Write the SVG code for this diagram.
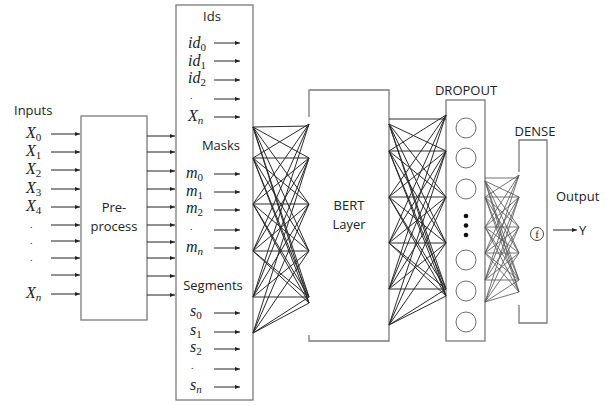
<svg xmlns="http://www.w3.org/2000/svg" width="610" height="406" viewBox="0 0 610 406">
<defs>
<marker id="ah" markerWidth="5" markerHeight="4" refX="5" refY="2" orient="auto" markerUnits="userSpaceOnUse"><path d="M0,0 L5,2 L0,4 z" fill="#222"/></marker>
<style>
.box{fill:#fff;stroke:#7a7a7a;stroke-width:1.3}
.lbl{font-family:"Open Sans","Noto Sans",sans-serif;font-size:13px;fill:#222}
.m{font-family:"Liberation Serif","DejaVu Serif",serif;font-style:italic;font-size:16px;fill:#222}
.d{font-family:"Liberation Serif","DejaVu Serif",serif;font-size:10px;fill:#222}
.sub{font-style:normal;font-size:11px}
.subi{font-size:11px}
.ar{stroke:#222;stroke-width:1;marker-end:url(#ah);fill:none}
.f1{stroke:#2a2a2a;stroke-width:1}
.f3{stroke:#5a5a5a;stroke-width:0.85}
.c{fill:#fff;stroke:#6e6e6e;stroke-width:1}
</style>
</defs>
<rect width="610" height="406" fill="#fff"/>

<g id="inputs">
<text class="lbl" x="14" y="115">Inputs</text>
<text class="m" x="26" y="138">X<tspan class="sub" dy="3">0</tspan></text>
<text class="m" x="26" y="156">X<tspan class="sub" dy="3">1</tspan></text>
<text class="m" x="26" y="174">X<tspan class="sub" dy="3">2</tspan></text>
<text class="m" x="26" y="193">X<tspan class="sub" dy="3">3</tspan></text>
<text class="m" x="26" y="211">X<tspan class="sub" dy="3">4</tspan></text>
<text class="d" x="30" y="228">.</text>
<text class="d" x="30" y="244">.</text>
<text class="d" x="30" y="261">.</text>
<text class="m" x="26" y="298">X<tspan class="subi" dy="3">n</tspan></text>
</g>

<g id="preprocess">
<rect class="box" x="81" y="116" width="66" height="204"/>
<text class="lbl" x="114" y="212" text-anchor="middle">Pre-</text>
<text class="lbl" x="114" y="231" text-anchor="middle">process</text>
</g>

<g id="ids-masks-segments">
<rect class="box" x="176" y="5" width="77" height="395"/>
<text class="lbl" x="212" y="21" text-anchor="middle">Ids</text>
<text class="m" x="188" y="48">id<tspan class="sub" dy="3">0</tspan></text>
<text class="m" x="188" y="66">id<tspan class="sub" dy="3">1</tspan></text>
<text class="m" x="188" y="83">id<tspan class="sub" dy="3">2</tspan></text>
<text class="d" x="190" y="99">.</text>
<text class="m" x="188" y="121">X<tspan class="subi" dy="3">n</tspan></text>
<text class="lbl" x="221" y="150" text-anchor="middle">Masks</text>
<text class="m" x="186" y="178">m<tspan class="sub" dy="3">0</tspan></text>
<text class="m" x="186" y="196">m<tspan class="sub" dy="3">1</tspan></text>
<text class="m" x="186" y="213">m<tspan class="sub" dy="3">2</tspan></text>
<text class="d" x="190" y="230">.</text>
<text class="m" x="186" y="252">m<tspan class="subi" dy="3">n</tspan></text>
<text class="lbl" x="213" y="290" text-anchor="middle">Segments</text>
<text class="m" x="190" y="316">s<tspan class="sub" dy="3">0</tspan></text>
<text class="m" x="190" y="335">s<tspan class="sub" dy="3">1</tspan></text>
<text class="m" x="190" y="352">s<tspan class="sub" dy="3">2</tspan></text>
<text class="d" x="191" y="369">.</text>
<text class="m" x="190" y="390">s<tspan class="subi" dy="3">n</tspan></text>
</g>

<g id="bert">
<path class="box" d="M309,117 V90 H389 V341 H309 V335" />
<text class="lbl" x="349" y="210" text-anchor="middle">BERT</text>
<text class="lbl" x="349" y="229" text-anchor="middle">Layer</text>
</g>

<g id="dropout">
<text class="lbl" x="466" y="95" text-anchor="middle">DROPOUT</text>
<rect class="box" x="446" y="100" width="39" height="241"/>
<circle class="c" cx="466" cy="128" r="10"/>
<circle class="c" cx="466" cy="158" r="10"/>
<circle class="c" cx="466" cy="189" r="10"/>
<circle cx="466" cy="216" r="2.3" fill="#111"/>
<circle cx="466" cy="225.5" r="2.3" fill="#111"/>
<circle cx="466" cy="235" r="2.3" fill="#111"/>
<circle class="c" cx="466" cy="260" r="10"/>
<circle class="c" cx="466" cy="291" r="10"/>
<circle class="c" cx="466" cy="322" r="10"/>
</g>

<g id="dense">
<text class="lbl" x="535" y="136" text-anchor="middle">DENSE</text>
<path class="box" d="M519,172 V140 H547 V323 H519 V305"/>
<circle cx="537" cy="234" r="6.5" fill="none" stroke="#333" stroke-width="0.9"/>
<text x="537" y="238" text-anchor="middle" font-family="Liberation Serif,serif" font-size="11" fill="#222">f</text>
</g>

<g id="output">
<text class="lbl" x="556" y="201">Output</text>
<text class="lbl" x="579" y="235">Y</text>
</g>

<g id="connectors">
<line class="ar" x1="51" y1="134" x2="80" y2="134"/>
<line class="ar" x1="51" y1="152" x2="80" y2="152"/>
<line class="ar" x1="51" y1="170" x2="80" y2="170"/>
<line class="ar" x1="51" y1="189" x2="80" y2="189"/>
<line class="ar" x1="51" y1="207" x2="80" y2="207"/>
<line class="ar" x1="51" y1="225" x2="80" y2="225"/>
<line class="ar" x1="51" y1="241" x2="80" y2="241"/>
<line class="ar" x1="51" y1="258" x2="80" y2="258"/>
<line class="ar" x1="51" y1="275" x2="80" y2="275"/>
<line class="ar" x1="51" y1="294" x2="80" y2="294"/>
<line class="ar" x1="147" y1="136" x2="175" y2="136"/>
<line class="ar" x1="147" y1="152" x2="175" y2="152"/>
<line class="ar" x1="147" y1="171" x2="175" y2="171"/>
<line class="ar" x1="147" y1="189" x2="175" y2="189"/>
<line class="ar" x1="147" y1="207" x2="175" y2="207"/>
<line class="ar" x1="147" y1="225" x2="175" y2="225"/>
<line class="ar" x1="147" y1="242" x2="175" y2="242"/>
<line class="ar" x1="147" y1="258" x2="175" y2="258"/>
<line class="ar" x1="147" y1="276" x2="175" y2="276"/>
<line class="ar" x1="147" y1="295" x2="175" y2="295"/>
<line class="ar" x1="214" y1="43" x2="240" y2="43"/>
<line class="ar" x1="214" y1="61" x2="240" y2="61"/>
<line class="ar" x1="214" y1="80" x2="240" y2="80"/>
<line class="ar" x1="214" y1="99" x2="240" y2="99"/>
<line class="ar" x1="214" y1="117" x2="240" y2="117"/>
<line class="ar" x1="214" y1="174" x2="240" y2="174"/>
<line class="ar" x1="214" y1="192" x2="240" y2="192"/>
<line class="ar" x1="214" y1="210" x2="240" y2="210"/>
<line class="ar" x1="214" y1="230" x2="240" y2="230"/>
<line class="ar" x1="214" y1="248" x2="240" y2="248"/>
<line class="ar" x1="214" y1="313" x2="240" y2="313"/>
<line class="ar" x1="214" y1="332" x2="240" y2="332"/>
<line class="ar" x1="214" y1="349" x2="240" y2="349"/>
<line class="ar" x1="214" y1="369" x2="240" y2="369"/>
<line class="ar" x1="214" y1="387" x2="240" y2="387"/>
<line class="ar" x1="553" y1="230" x2="577" y2="230"/>
<g class="f1">
<line x1="253" y1="127" x2="309" y2="126"/><line x1="253" y1="127" x2="309" y2="158"/><line x1="253" y1="127" x2="309" y2="204"/><line x1="253" y1="127" x2="309" y2="251"/><line x1="253" y1="127" x2="309" y2="297"/><line x1="253" y1="127" x2="309" y2="303"/>
<line x1="253" y1="158" x2="309" y2="124"/><line x1="253" y1="158" x2="309" y2="158"/><line x1="253" y1="158" x2="309" y2="204"/><line x1="253" y1="158" x2="309" y2="251"/><line x1="253" y1="158" x2="309" y2="297"/><line x1="253" y1="158" x2="309" y2="303"/>
<line x1="253" y1="204" x2="309" y2="124"/><line x1="253" y1="204" x2="309" y2="158"/><line x1="253" y1="204" x2="309" y2="204"/><line x1="253" y1="204" x2="309" y2="251"/><line x1="253" y1="204" x2="309" y2="297"/><line x1="253" y1="204" x2="309" y2="303"/>
<line x1="253" y1="251" x2="309" y2="124"/><line x1="253" y1="251" x2="309" y2="158"/><line x1="253" y1="251" x2="309" y2="204"/><line x1="253" y1="251" x2="309" y2="251"/><line x1="253" y1="251" x2="309" y2="297"/><line x1="253" y1="251" x2="309" y2="303"/>
<line x1="253" y1="297" x2="309" y2="124"/><line x1="253" y1="297" x2="309" y2="158"/><line x1="253" y1="297" x2="309" y2="204"/><line x1="253" y1="297" x2="309" y2="251"/><line x1="253" y1="297" x2="309" y2="297"/>
<line x1="253" y1="333" x2="309" y2="158"/><line x1="253" y1="333" x2="309" y2="204"/><line x1="253" y1="333" x2="309" y2="251"/><line x1="253" y1="333" x2="309" y2="297"/><line x1="253" y1="333" x2="309" y2="303"/>
</g>
<g class="f1">
<line x1="389" y1="119" x2="446" y2="119"/><line x1="389" y1="124" x2="446" y2="151"/><line x1="389" y1="124" x2="446" y2="197"/><line x1="389" y1="124" x2="446" y2="243"/><line x1="389" y1="124" x2="446" y2="289"/><line x1="389" y1="124" x2="446" y2="296"/>
<line x1="389" y1="151" x2="446" y2="115"/><line x1="389" y1="151" x2="446" y2="151"/><line x1="389" y1="151" x2="446" y2="197"/><line x1="389" y1="151" x2="446" y2="243"/><line x1="389" y1="151" x2="446" y2="289"/><line x1="389" y1="151" x2="446" y2="296"/>
<line x1="389" y1="197" x2="446" y2="115"/><line x1="389" y1="197" x2="446" y2="151"/><line x1="389" y1="197" x2="446" y2="197"/><line x1="389" y1="197" x2="446" y2="243"/><line x1="389" y1="197" x2="446" y2="289"/><line x1="389" y1="197" x2="446" y2="296"/>
<line x1="389" y1="243" x2="446" y2="115"/><line x1="389" y1="243" x2="446" y2="151"/><line x1="389" y1="243" x2="446" y2="197"/><line x1="389" y1="243" x2="446" y2="243"/><line x1="389" y1="243" x2="446" y2="289"/><line x1="389" y1="243" x2="446" y2="296"/>
<line x1="389" y1="289" x2="446" y2="115"/><line x1="389" y1="289" x2="446" y2="151"/><line x1="389" y1="289" x2="446" y2="197"/><line x1="389" y1="289" x2="446" y2="243"/><line x1="389" y1="289" x2="446" y2="289"/>
<line x1="389" y1="325" x2="446" y2="151"/><line x1="389" y1="325" x2="446" y2="197"/><line x1="389" y1="325" x2="446" y2="243"/><line x1="389" y1="325" x2="446" y2="289"/><line x1="389" y1="325" x2="446" y2="296"/>
</g>
<g class="f3">
<line x1="485" y1="178" x2="519" y2="178"/><line x1="485" y1="181" x2="519" y2="197"/><line x1="485" y1="181" x2="519" y2="227"/><line x1="485" y1="181" x2="519" y2="253"/><line x1="485" y1="181" x2="519" y2="280"/><line x1="485" y1="181" x2="519" y2="292"/>
<line x1="485" y1="197" x2="519" y2="175"/><line x1="485" y1="197" x2="519" y2="197"/><line x1="485" y1="197" x2="519" y2="227"/><line x1="485" y1="197" x2="519" y2="253"/><line x1="485" y1="197" x2="519" y2="280"/><line x1="485" y1="197" x2="519" y2="292"/>
<line x1="485" y1="227" x2="519" y2="175"/><line x1="485" y1="227" x2="519" y2="197"/><line x1="485" y1="227" x2="519" y2="227"/><line x1="485" y1="227" x2="519" y2="253"/><line x1="485" y1="227" x2="519" y2="280"/><line x1="485" y1="227" x2="519" y2="292"/>
<line x1="485" y1="253" x2="519" y2="175"/><line x1="485" y1="253" x2="519" y2="197"/><line x1="485" y1="253" x2="519" y2="227"/><line x1="485" y1="253" x2="519" y2="253"/><line x1="485" y1="253" x2="519" y2="280"/><line x1="485" y1="253" x2="519" y2="292"/>
<line x1="485" y1="280" x2="519" y2="175"/><line x1="485" y1="280" x2="519" y2="197"/><line x1="485" y1="280" x2="519" y2="227"/><line x1="485" y1="280" x2="519" y2="253"/><line x1="485" y1="280" x2="519" y2="280"/>
<line x1="485" y1="302" x2="519" y2="197"/><line x1="485" y1="302" x2="519" y2="227"/><line x1="485" y1="302" x2="519" y2="253"/><line x1="485" y1="302" x2="519" y2="280"/><line x1="485" y1="302" x2="519" y2="292"/>
</g>
</g>
</svg>
